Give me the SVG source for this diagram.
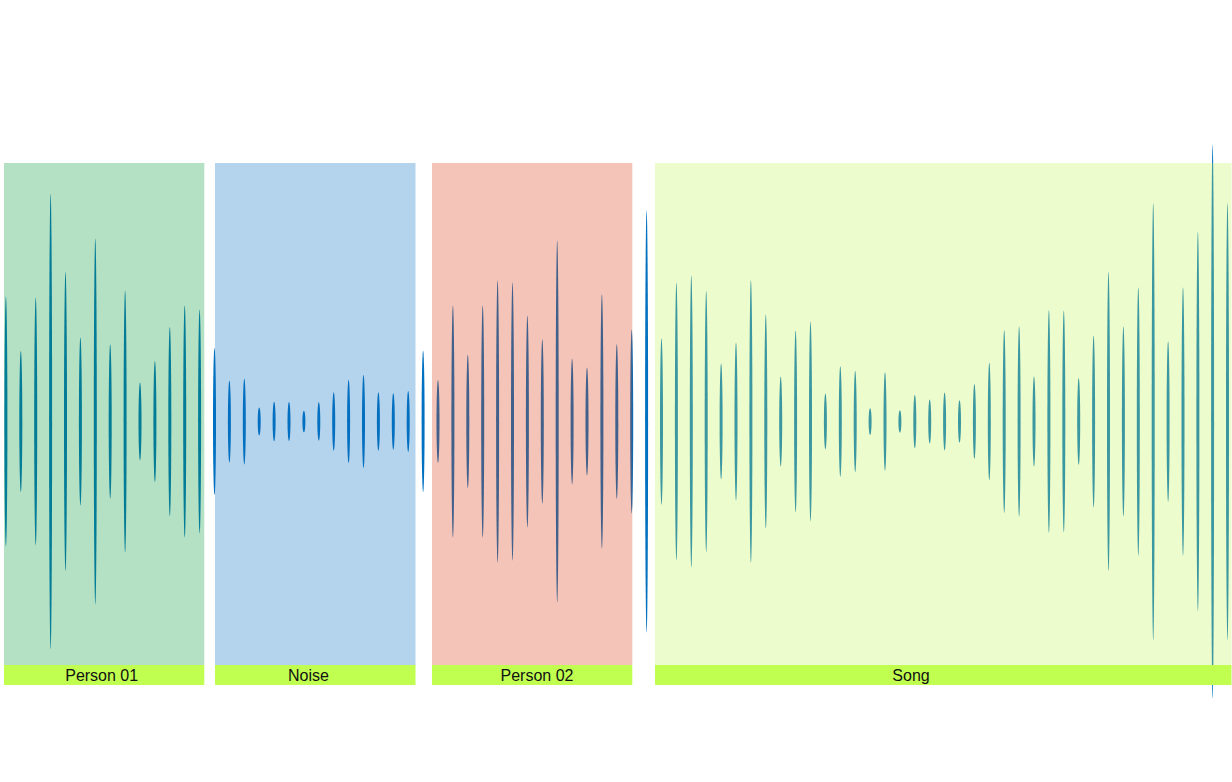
<svg xmlns="http://www.w3.org/2000/svg" width="1232" height="782" viewBox="0 0 1232 782">
<style>
.sp{fill:#0070C0}
.ov{fill-opacity:0.3}
.bar{fill:#C0FF50}
.lbl{font-family:"Liberation Sans",Arial,sans-serif;font-size:16px;fill:#111;text-anchor:middle}
</style>
<rect x="0" y="0" width="1232" height="782" fill="#FFFFFF"/>
<g id="waveform">
<ellipse class="sp" cx="5.9" cy="421.5" rx="1.5" ry="125"/>
<ellipse class="sp" cx="20.8" cy="421.5" rx="1.5" ry="70.5"/>
<ellipse class="sp" cx="35.7" cy="421.5" rx="1.5" ry="124"/>
<ellipse class="sp" cx="50.6" cy="421.5" rx="1.5" ry="227.5"/>
<ellipse class="sp" cx="65.5" cy="421.5" rx="1.5" ry="149.5"/>
<ellipse class="sp" cx="80.4" cy="421.5" rx="1.5" ry="84"/>
<ellipse class="sp" cx="95.3" cy="421.5" rx="1.5" ry="183"/>
<ellipse class="sp" cx="110.2" cy="421.5" rx="1.5" ry="77"/>
<ellipse class="sp" cx="125.1" cy="421.5" rx="1.5" ry="131"/>
<ellipse class="sp" cx="140" cy="421.5" rx="1.5" ry="39"/>
<ellipse class="sp" cx="154.9" cy="421.5" rx="1.5" ry="60.5"/>
<ellipse class="sp" cx="169.8" cy="421.5" rx="1.5" ry="94.5"/>
<ellipse class="sp" cx="184.7" cy="421.5" rx="1.5" ry="116"/>
<ellipse class="sp" cx="199.6" cy="421.5" rx="1.5" ry="112"/>
<ellipse class="sp" cx="214.5" cy="421.5" rx="1.5" ry="73.5"/>
<ellipse class="sp" cx="229.4" cy="421.5" rx="1.5" ry="41"/>
<ellipse class="sp" cx="244.3" cy="421.5" rx="1.5" ry="43"/>
<ellipse class="sp" cx="259.2" cy="421.5" rx="1.5" ry="14"/>
<ellipse class="sp" cx="274.1" cy="421.5" rx="1.5" ry="19.7"/>
<ellipse class="sp" cx="289" cy="421.5" rx="1.5" ry="19.5"/>
<ellipse class="sp" cx="303.9" cy="421.5" rx="1.5" ry="10.8"/>
<ellipse class="sp" cx="318.8" cy="421.5" rx="1.5" ry="19.2"/>
<ellipse class="sp" cx="333.7" cy="421.5" rx="1.5" ry="29.3"/>
<ellipse class="sp" cx="348.6" cy="421.5" rx="1.5" ry="41.7"/>
<ellipse class="sp" cx="363.5" cy="421.5" rx="1.5" ry="46.7"/>
<ellipse class="sp" cx="378.4" cy="421.5" rx="1.5" ry="29.3"/>
<ellipse class="sp" cx="393.3" cy="421.5" rx="1.5" ry="28.3"/>
<ellipse class="sp" cx="408.2" cy="421.5" rx="1.5" ry="30.6"/>
<ellipse class="sp" cx="423.1" cy="421.5" rx="1.5" ry="70.7"/>
<ellipse class="sp" cx="438" cy="421.5" rx="1.5" ry="41.5"/>
<ellipse class="sp" cx="452.9" cy="421.5" rx="1.5" ry="116"/>
<ellipse class="sp" cx="467.8" cy="421.5" rx="1.5" ry="66.7"/>
<ellipse class="sp" cx="482.7" cy="421.5" rx="1.5" ry="116"/>
<ellipse class="sp" cx="497.6" cy="421.5" rx="1.5" ry="141.3"/>
<ellipse class="sp" cx="512.5" cy="421.5" rx="1.5" ry="139.3"/>
<ellipse class="sp" cx="527.4" cy="421.5" rx="1.5" ry="106"/>
<ellipse class="sp" cx="542.3" cy="421.5" rx="1.5" ry="82.3"/>
<ellipse class="sp" cx="557.2" cy="421.5" rx="1.5" ry="181"/>
<ellipse class="sp" cx="572.1" cy="421.5" rx="1.5" ry="62.7"/>
<ellipse class="sp" cx="587" cy="421.5" rx="1.5" ry="54"/>
<ellipse class="sp" cx="601.9" cy="421.5" rx="1.5" ry="127.3"/>
<ellipse class="sp" cx="616.8" cy="421.5" rx="1.5" ry="77.3"/>
<ellipse class="sp" cx="631.7" cy="421.5" rx="1.5" ry="92"/>
<ellipse class="sp" cx="646.6" cy="421.5" rx="1.5" ry="211"/>
<ellipse class="sp" cx="661.5" cy="421.5" rx="1.5" ry="83.3"/>
<ellipse class="sp" cx="676.4" cy="421.5" rx="1.5" ry="139"/>
<ellipse class="sp" cx="691.3" cy="421.5" rx="1.5" ry="146"/>
<ellipse class="sp" cx="706.2" cy="421.5" rx="1.5" ry="130.7"/>
<ellipse class="sp" cx="721.1" cy="421.5" rx="1.5" ry="58"/>
<ellipse class="sp" cx="736" cy="421.5" rx="1.5" ry="79"/>
<ellipse class="sp" cx="750.9" cy="421.5" rx="1.5" ry="141.5"/>
<ellipse class="sp" cx="765.8" cy="421.5" rx="1.5" ry="107"/>
<ellipse class="sp" cx="780.7" cy="421.5" rx="1.5" ry="45"/>
<ellipse class="sp" cx="795.6" cy="421.5" rx="1.5" ry="91"/>
<ellipse class="sp" cx="810.5" cy="421.5" rx="1.5" ry="100"/>
<ellipse class="sp" cx="825.4" cy="421.5" rx="1.5" ry="28"/>
<ellipse class="sp" cx="840.3" cy="421.5" rx="1.5" ry="55.3"/>
<ellipse class="sp" cx="855.2" cy="421.5" rx="1.5" ry="50.7"/>
<ellipse class="sp" cx="870.1" cy="421.5" rx="1.5" ry="13.3"/>
<ellipse class="sp" cx="885" cy="421.5" rx="1.5" ry="49.3"/>
<ellipse class="sp" cx="899.9" cy="421.5" rx="1.5" ry="11.3"/>
<ellipse class="sp" cx="914.8" cy="421.5" rx="1.5" ry="26.7"/>
<ellipse class="sp" cx="929.7" cy="421.5" rx="1.5" ry="22"/>
<ellipse class="sp" cx="944.6" cy="421.5" rx="1.5" ry="29"/>
<ellipse class="sp" cx="959.5" cy="421.5" rx="1.5" ry="21.3"/>
<ellipse class="sp" cx="974.4" cy="421.5" rx="1.5" ry="37.6"/>
<ellipse class="sp" cx="989.3" cy="421.5" rx="1.5" ry="58.8"/>
<ellipse class="sp" cx="1004.2" cy="421.5" rx="1.5" ry="91.6"/>
<ellipse class="sp" cx="1019.1" cy="421.5" rx="1.5" ry="95.3"/>
<ellipse class="sp" cx="1034" cy="421.5" rx="1.5" ry="45.3"/>
<ellipse class="sp" cx="1048.9" cy="421.5" rx="1.5" ry="111.6"/>
<ellipse class="sp" cx="1063.8" cy="421.5" rx="1.5" ry="111"/>
<ellipse class="sp" cx="1078.7" cy="421.5" rx="1.5" ry="43.6"/>
<ellipse class="sp" cx="1093.6" cy="421.5" rx="1.5" ry="86"/>
<ellipse class="sp" cx="1108.5" cy="421.5" rx="1.5" ry="149.7"/>
<ellipse class="sp" cx="1123.4" cy="421.5" rx="1.5" ry="95"/>
<ellipse class="sp" cx="1138.3" cy="421.5" rx="1.5" ry="134.3"/>
<ellipse class="sp" cx="1153.2" cy="421.5" rx="1.5" ry="218.6"/>
<ellipse class="sp" cx="1168.1" cy="421.5" rx="1.5" ry="80.3"/>
<ellipse class="sp" cx="1183" cy="421.5" rx="1.5" ry="134.3"/>
<ellipse class="sp" cx="1197.9" cy="421.5" rx="1.5" ry="190"/>
<ellipse class="sp" cx="1212.6" cy="421.5" rx="1.5" ry="276.8"/>
<ellipse class="sp" cx="1227.5" cy="421.5" rx="1.5" ry="218.6"/>
</g>
<g id="person01">
<rect class="ov" x="4" y="163" width="200.3" height="502" fill="#059837"/>
<rect class="bar" x="4" y="665" width="200.3" height="20"/>
<text class="lbl" x="101.7" y="681">Person 01</text>
</g>
<g id="noise">
<rect class="ov" x="215" y="163" width="200.5" height="502" fill="#056CC0"/>
<rect class="bar" x="215" y="665" width="200.5" height="20"/>
<text class="lbl" x="308.5" y="681">Noise</text>
</g>
<g id="person02">
<rect class="ov" x="432" y="163" width="200.3" height="502" fill="#D73A12"/>
<rect class="bar" x="432" y="665" width="200.3" height="20"/>
<text class="lbl" x="537" y="681">Person 02</text>
</g>
<g id="song">
<rect class="ov" x="655" y="163" width="576.5" height="502" fill="#C3F558"/>
<rect class="bar" x="655" y="665" width="576.5" height="20"/>
<text class="lbl" x="911" y="681">Song</text>
</g>
<g id="connectors"/>
</svg>
